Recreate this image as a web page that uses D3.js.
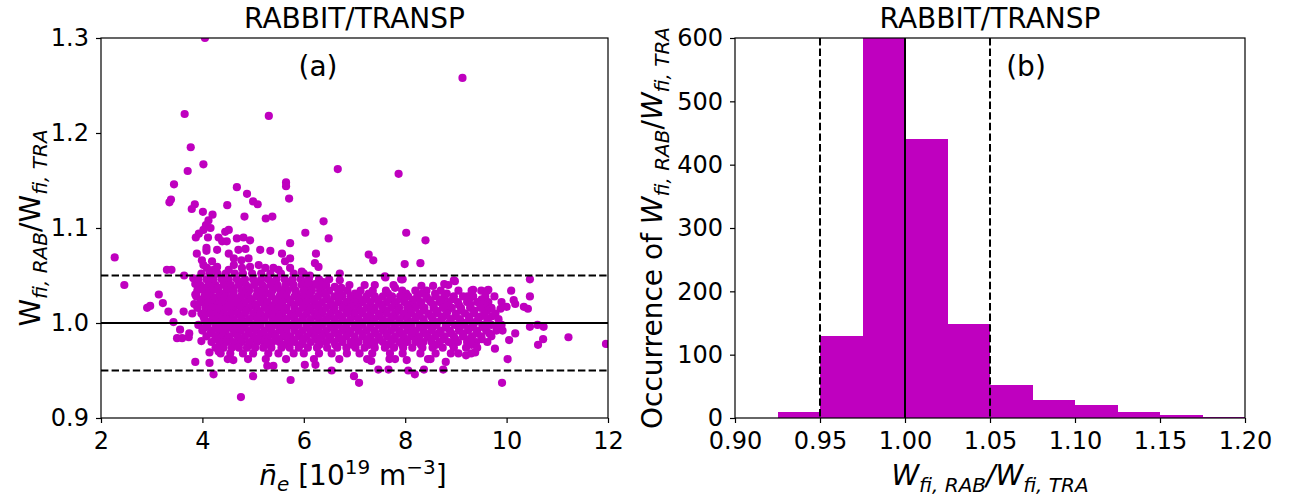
<!DOCTYPE html>
<html lang="en">
<head>
<meta charset="UTF-8">
<title>RABBIT/TRANSP</title>
<script src="https://cdnjs.cloudflare.com/ajax/libs/d3/7.8.5/d3.min.js"></script>
<style>
    body { margin: 0; background: #fff; }
    svg text { font-family: "DejaVu Sans", sans-serif; fill: #000; }
    .axis text { font-size: 24px; }
    .axis path, .axis line { stroke: #000; stroke-width: 1.2px; }
    .frame { fill: none; stroke: #000; stroke-width: 1.2px; }
    .dot { fill: #bf00bf; }
    .bar { fill: #bf00bf; shape-rendering: crispEdges; }
    .ref { stroke: #000; stroke-width: 2px; fill: none; }
    .ref.dashed { stroke-dasharray: 7.4, 3.2; }
</style>
</head>
<body>
<div class="chart"></div>
<script>
// ---- panel (a): single points [ne, ratio]
var scatterPoints = [
    [4.05,1.300],[9.13,1.258],[3.65,1.220],[5.31,1.218],[3.77,1.185],[4.02,1.167],[3.71,1.160],[6.67,1.162],
    [7.87,1.157],[3.44,1.146],[5.65,1.148],[5.65,1.144],[4.68,1.143],[4.88,1.136],[5.71,1.131],[3.35,1.127],
    [3.38,1.130],[3.85,1.125],[3.79,1.120],[4.01,1.117],[5.00,1.128],[5.09,1.125],[4.49,1.124],[4.20,1.114],
    [4.12,1.108],[4.07,1.103],[4.16,1.100],[4.02,1.098],[3.93,1.094],[4.11,1.090],[3.87,1.090],[4.83,1.112],
    [5.25,1.110],[5.38,1.112],[6.39,1.107],[6.03,1.095],[8.02,1.095],[6.49,1.089],[8.40,1.087],[5.73,1.084],
    [4.45,1.096],[4.52,1.098],[4.32,1.090],[4.39,1.086],[4.48,1.086],[4.68,1.089],[4.81,1.090],[4.94,1.087],
    [3.89,1.073],[4.08,1.079],[4.08,1.076],[4.29,1.077],[5.14,1.077],[5.34,1.076],[4.85,1.078],[5.57,1.073],
    [5.63,1.065],[5.11,1.061],[5.24,1.058],[5.40,1.058],[5.50,1.056],[4.52,1.073],[4.62,1.068],[4.71,1.077],
    [4.77,1.066],[4.62,1.061],[4.52,1.056],[4.78,1.058],[4.91,1.068],[4.94,1.059],[3.99,1.066],[4.02,1.061],
    [4.19,1.065],[4.09,1.058],[4.22,1.056],[4.29,1.059],[5.73,1.068],[5.73,1.058],[5.96,1.054],[6.12,1.050],
    [6.24,1.073],[6.22,1.063],[6.29,1.059],[7.28,1.072],[7.37,1.066],[7.99,1.062],[8.30,1.063],[6.71,1.052],
    [2.27,1.069],[2.46,1.040],[3.30,1.056],[3.39,1.056],[3.14,1.030],[2.91,1.016],[2.97,1.018],[3.22,1.021],
    [3.33,1.012],[3.43,1.001],[3.64,1.050],[3.86,1.041],[3.63,1.012],[3.80,1.010],[3.84,1.020],[3.86,1.030],
    [3.82,1.047],[3.56,0.993],[3.50,0.984],[3.60,0.984],[3.74,0.989],[3.73,0.985],[3.86,0.959],[3.98,0.981],
    [4.14,0.969],[4.14,0.958],[4.22,0.946],[4.32,0.970],[4.61,0.961],[4.76,0.922],[5.00,0.944],[5.28,0.955],
    [5.40,0.955],[5.74,0.940],[6.02,0.956],[6.23,0.956],[6.55,0.950],[6.99,0.944],[7.09,0.937],[7.33,0.960],
    [7.47,0.951],[7.67,0.951],[7.69,0.962],[8.03,0.961],[8.06,0.950],[8.19,0.946],[8.37,0.951],[8.50,0.962],
    [8.75,0.951],[8.80,0.959],[9.05,0.968],[9.20,0.966],[9.38,0.969],[9.77,0.973],[9.91,0.937],[10.02,0.962],
    [10.05,0.982],[9.92,0.992],[10.17,0.989],[10.62,0.977],[10.72,0.983],[10.46,0.996],[10.61,0.998],
    [10.73,0.996],[11.22,0.985],[11.96,0.978],[10.46,1.046],[10.46,1.028],[10.34,1.017],[10.42,1.015],
    [10.09,1.034],[10.14,1.024],[10.17,1.020],[10.00,1.017],[9.88,1.015],[9.62,1.017],[9.50,1.034],
    [9.62,1.034],[9.70,1.015],[9.31,1.034],[9.23,1.028],[8.96,1.045],[8.77,1.041],[7.92,1.046],[7.61,1.048],
    [7.60,1.049],[7.95,1.046],[7.40,1.040],[7.77,1.040],[7.80,1.037],[8.32,1.039],[8.55,1.039],[8.59,1.031],
    [8.85,1.040],[8.98,1.044],[9.34,1.035],[9.64,1.035],[6.22,1.041],[6.38,1.043],[6.71,1.045],[6.61,1.038],
    [6.74,1.037],[6.87,1.022],[6.94,1.012],[7.07,1.026],[7.07,1.014]
];

// ---- panel (a): the dense band, one ratio level and the ne values along it
var bandRows = [
    [1.052, [3.98,4.14,4.30,4.46,4.64,4.80,4.98,5.16,5.34,5.55,5.80,6.00]],
    [1.046, [3.92,4.08,4.22,4.38,4.52,4.68,4.84,5.00,5.16,5.30,5.46,5.62,5.78,5.94,6.10,6.30,6.50]],
    [1.043, [4.15,4.44,4.76,5.06,5.38,5.71,6.02]],
    [1.040, [3.96,4.12,4.26,4.42,4.56,4.72,4.86,5.02,5.18,5.34,5.48,5.64,5.80,5.96,6.10,6.26,6.44,6.90,7.20]],
    [1.037, [4.02,4.31,4.58,4.91,5.22,5.49,5.79,6.06,6.36]],
    [1.034, [3.90,4.04,4.18,4.32,4.48,4.62,4.78,4.92,5.08,5.22,5.38,5.54,5.68,5.84,6.00,6.16,6.32,6.50,6.68,
             6.86,7.12,7.36,7.62,7.94,8.20,8.42,8.70,9.05]],
    [1.031, [4.10,4.36,4.61,4.83,5.12,5.31,5.58,5.86,6.12,6.41,6.72,7.01,7.28,7.66,8.02,8.33,8.82]],
    [1.028, [3.88,4.04,4.18,4.32,4.46,4.60,4.76,4.90,5.06,5.20,5.36,5.52,5.66,5.82,5.98,6.12,6.28,6.44,6.60,
             6.76,6.92,7.08,7.24,7.40,7.56,7.74,7.90,8.06,8.24,8.42,8.60,8.78,8.96,9.14,9.34,9.58,9.76]],
    [1.025, [4.01,4.23,4.44,4.71,4.96,5.19,5.46,5.69,5.94,6.21,6.46,6.69,6.96,7.21,7.44,7.71,7.96,8.19,8.46,
             8.71,8.94,9.26,9.51]],
    [1.022, [3.96,4.12,4.26,4.40,4.54,4.68,4.84,4.98,5.14,5.28,5.44,5.58,5.74,5.90,6.06,6.20,6.36,6.52,6.68,
             6.84,7.00,7.16,7.32,7.48,7.64,7.82,7.98,8.14,8.32,8.50,8.68,8.86,9.04,9.22,9.42,9.64,9.90]],
    [1.019, [4.06,4.29,4.56,4.79,5.04,5.31,5.54,5.81,6.04,6.29,6.56,6.79,7.04,7.31,7.54,7.79,8.06,8.29,8.56,
             8.79,9.06,9.29,9.56]],
    [1.016, [3.90,4.06,4.20,4.34,4.48,4.62,4.76,4.92,5.06,5.22,5.36,5.50,5.66,5.82,5.98,6.14,6.28,6.44,6.60,
             6.76,6.92,7.08,7.24,7.40,7.56,7.72,7.88,8.04,8.20,8.38,8.56,8.74,8.92,9.10,9.28,9.48,9.70]],
    [1.013, [4.11,4.34,4.61,4.86,5.09,5.36,5.61,5.84,6.11,6.36,6.59,6.86,7.11,7.34,7.61,7.86,8.09,8.36,8.61,
             8.84,9.11,9.36,9.61]],
    [1.010, [3.98,4.14,4.28,4.42,4.56,4.70,4.84,5.00,5.14,5.30,5.44,5.58,5.74,5.90,6.06,6.22,6.36,6.52,6.68,
             6.84,7.00,7.16,7.32,7.48,7.64,7.80,7.96,8.12,8.28,8.46,8.64,8.82,9.00,9.18,9.36,9.56,9.78]],
    [1.007, [4.02,4.26,4.49,4.76,5.01,5.24,5.51,5.76,5.99,6.26,6.51,6.74,7.01,7.26,7.49,7.76,8.01,8.24,8.51,
             8.76,8.99,9.26,9.49,9.71]],
    [1.004, [4.04,4.20,4.34,4.48,4.62,4.78,4.92,5.08,5.22,5.38,5.52,5.66,5.82,5.98,6.14,6.30,6.44,6.60,6.76,
             6.92,7.08,7.24,7.40,7.56,7.72,7.88,8.04,8.20,8.36,8.54,8.72,8.90,9.08,9.26,9.44,9.62,9.84]],
    [1.001, [4.12,4.37,4.63,4.88,5.11,5.38,5.63,5.87,6.12,6.39,6.62,6.88,7.13,7.37,7.62,7.89,8.12,8.37,8.63,
             8.88,9.12,9.38,9.63]],
    [0.998, [3.92,4.10,4.26,4.40,4.54,4.70,4.84,5.00,5.14,5.30,5.44,5.60,5.74,5.90,6.06,6.22,6.36,6.52,6.68,
             6.84,7.00,7.16,7.32,7.48,7.64,7.80,7.96,8.12,8.28,8.44,8.62,8.80,8.98,9.16,9.34,9.52,9.70,9.90]],
    [0.995, [4.04,4.31,4.56,4.79,5.06,5.31,5.54,5.81,6.06,6.29,6.56,6.81,7.04,7.31,7.56,7.79,8.06,8.31,8.54,
             8.81,9.06,9.29,9.56,9.81]],
    [0.992, [4.00,4.18,4.32,4.46,4.62,4.76,4.92,5.06,5.22,5.36,5.52,5.66,5.82,5.98,6.14,6.28,6.44,6.60,6.76,
             6.92,7.08,7.24,7.40,7.56,7.72,7.88,8.04,8.20,8.36,8.52,8.70,8.88,9.06,9.24,9.42,9.60,9.80]],
    [0.989, [4.16,4.41,4.64,4.91,5.16,5.39,5.66,5.91,6.14,6.41,6.66,6.89,7.16,7.41,7.64,7.91,8.16,8.39,8.66,
             8.91,9.14,9.41,9.66]],
    [0.986, [4.08,4.26,4.40,4.54,4.70,4.84,5.00,5.14,5.30,5.44,5.60,5.74,5.90,6.06,6.22,6.36,6.52,6.68,6.84,
             7.00,7.16,7.32,7.48,7.64,7.80,7.96,8.12,8.28,8.44,8.60,8.78,8.96,9.14,9.32,9.50,9.70]],
    [0.983, [4.26,4.49,4.76,5.01,5.24,5.51,5.76,5.99,6.26,6.51,6.74,7.01,7.26,7.49,7.76,8.01,8.24,8.51,8.76,
             8.99,9.26,9.51]],
    [0.980, [4.18,4.34,4.48,4.62,4.78,4.92,5.08,5.22,5.38,5.52,5.68,5.82,5.98,6.14,6.30,6.44,6.60,6.76,6.92,
             7.08,7.24,7.40,7.56,7.72,7.88,8.04,8.20,8.36,8.52,8.68,8.86,9.04,9.22,9.40,9.62]],
    [0.977, [4.36,4.66,4.94,5.31,5.61,5.94,6.31,6.62,6.96,7.29,7.66,7.94,8.31,8.61,8.94,9.31]],
    [0.974, [4.26,4.42,4.58,4.72,4.88,5.04,5.20,5.36,5.56,5.72,5.90,6.08,6.26,6.46,6.66,6.84,7.02,7.20,7.40,
             7.60,7.78,7.96,8.14,8.34,8.54,8.74,8.96,9.20,9.42]],
    [0.968, [4.36,4.55,4.80,5.00,5.30,5.50,5.80,6.00,6.30,6.55,6.85,7.10,7.35,7.70,7.95,8.30,8.60,8.90,9.30]],
    [0.962, [4.50,4.90,5.25,5.65,6.20,6.70,7.25,7.80,8.45]]
];

var neTicks = [2, 4, 6, 8, 10, 12];
var ratioTicks = [0.9, 1.0, 1.1, 1.2, 1.3];
var refLevels = [0.95, 1.0, 1.05];

// ---- panel (b): histogram, bin start and count (bin width 0.025)
var binStart = [0.925, 0.950, 0.975, 1.000, 1.025, 1.050, 1.075, 1.100, 1.125, 1.150, 1.175];
var binCount = [10, 130, 660, 440, 148, 52, 29, 20, 9, 4, 1];
var binWidth = 0.025;
var histXTicks = [0.90, 0.95, 1.00, 1.05, 1.10, 1.15, 1.20];
var histYTicks = [0, 100, 200, 300, 400, 500, 600];

var svg = d3.select('.chart').append('svg')
    .attr('width', 1290)
    .attr('height', 497);

// flatten the band rows into points
var points = scatterPoints.slice();
bandRows.forEach(function(r) {
    r[1].forEach(function(n) { points.push([n, r[0]]); });
});

// W_{fi,RAB}/W_{fi,TRA} with mathtext-like subscripts
function ratioLabel(t, italicW) {
    var w = italicW ? 'italic' : 'normal';
    t.append('tspan').style('font-style', w).text('W');
    t.append('tspan').attr('dy', 7).style('font-size', '20px').style('font-style', 'italic').text('fi, RAB');
    t.append('tspan').attr('dy', -7).text('/');
    t.append('tspan').style('font-style', w).text('W');
    t.append('tspan').attr('dy', 7).style('font-size', '20px').style('font-style', 'italic').text('fi, TRA');
}

// ================= panel (a)
var ax = { left: 101, right: 608, top: 38, bottom: 418 };
var x = d3.scaleLinear().domain([2, 12]).range([ax.left, ax.right]);
var y = d3.scaleLinear().domain([0.9, 1.3]).range([ax.bottom, ax.top]);

svg.append('clipPath').attr('id', 'clipA')
    .append('rect')
    .attr('x', ax.left).attr('y', ax.top)
    .attr('width', ax.right - ax.left).attr('height', ax.bottom - ax.top);

var gA = svg.append('g').attr('clip-path', 'url(#clipA)');

gA.selectAll('.dot')
    .data(points)
    .enter()
    .append('circle')
    .attr('class', 'dot')
    .attr('cx', function(d) { return x(d[0]); })
    .attr('cy', function(d) { return y(d[1]); })
    .attr('r', 4.1);

gA.selectAll('.ref')
    .data(refLevels)
    .enter()
    .append('line')
    .attr('class', function(d) { return d == 1.0 ? 'ref' : 'ref dashed'; })
    .attr('x1', ax.left).attr('x2', ax.right)
    .attr('y1', function(d) { return y(d); })
    .attr('y2', function(d) { return y(d); });

svg.append('rect').attr('class', 'frame')
    .attr('x', ax.left).attr('y', ax.top)
    .attr('width', ax.right - ax.left).attr('height', ax.bottom - ax.top);

svg.append('g')
    .attr('class', 'axis')
    .attr('transform', 'translate(0,' + ax.bottom + ')')
    .call(d3.axisBottom(x).tickValues(neTicks).tickSize(5).tickPadding(9).tickFormat(d3.format('d')))
    .call(function(g) { g.select('.domain').remove(); });

svg.append('g')
    .attr('class', 'axis')
    .attr('transform', 'translate(' + ax.left + ',0)')
    .call(d3.axisLeft(y).tickValues(ratioTicks).tickSize(5).tickPadding(7).tickFormat(d3.format('.1f')))
    .call(function(g) { g.select('.domain').remove(); });

svg.append('text')
    .attr('x', (ax.left + ax.right) / 2).attr('y', 28)
    .attr('text-anchor', 'middle')
    .style('font-size', '28px')
    .text('RABBIT/TRANSP');

svg.append('text')
    .attr('x', 318).attr('y', 76)
    .attr('text-anchor', 'middle')
    .style('font-size', '28px')
    .text('(a)');

// y label (a)
var yla = svg.append('text')
    .attr('transform', 'translate(40,228) rotate(-90)')
    .attr('text-anchor', 'middle')
    .style('font-size', '28px');
ratioLabel(yla, false);

// x label (a)
var xla = svg.append('text')
    .attr('x', 353).attr('y', 485)
    .attr('text-anchor', 'middle')
    .style('font-size', '28px');
xla.append('tspan').style('font-style', 'italic').text('n\u0304');
xla.append('tspan').attr('dy', 6).style('font-size', '20px').style('font-style', 'italic').text('e');
xla.append('tspan').attr('dy', -6).text(' [10');
xla.append('tspan').attr('dy', -11).style('font-size', '20px').text('19');
xla.append('tspan').attr('dy', 11).text(' m');
xla.append('tspan').attr('dy', -11).style('font-size', '20px').text('\u22123');
xla.append('tspan').attr('dy', 11).text(']');

// ================= panel (b)
var bx = { left: 735, right: 1245, top: 38, bottom: 418 };
var hx = d3.scaleLinear().domain([0.90, 1.20]).range([bx.left, bx.right]);
var hy = d3.scaleLinear().domain([0, 600]).range([bx.bottom, bx.top]);

svg.append('clipPath').attr('id', 'clipB')
    .append('rect')
    .attr('x', bx.left).attr('y', bx.top)
    .attr('width', bx.right - bx.left).attr('height', bx.bottom - bx.top);

var gB = svg.append('g').attr('clip-path', 'url(#clipB)');

gB.selectAll('.bar')
    .data(binStart)
    .enter()
    .append('rect')
    .attr('class', 'bar')
    .attr('x', function(d) { return hx(d); })
    .attr('width', function(d) { return hx(d + binWidth) - hx(d); })
    .attr('y', function(d, i) { return hy(binCount[i]); })
    .attr('height', function(d, i) { return hy(0) - hy(binCount[i]); });

gB.selectAll('.ref')
    .data(refLevels)
    .enter()
    .append('line')
    .attr('class', function(d) { return d == 1.0 ? 'ref' : 'ref dashed'; })
    .attr('y1', bx.top).attr('y2', bx.bottom)
    .attr('x1', function(d) { return hx(d); })
    .attr('x2', function(d) { return hx(d); });

svg.append('rect').attr('class', 'frame')
    .attr('x', bx.left).attr('y', bx.top)
    .attr('width', bx.right - bx.left).attr('height', bx.bottom - bx.top);

svg.append('g')
    .attr('class', 'axis')
    .attr('transform', 'translate(0,' + bx.bottom + ')')
    .call(d3.axisBottom(hx).tickValues(histXTicks).tickSize(5).tickPadding(9).tickFormat(d3.format('.2f')))
    .call(function(g) { g.select('.domain').remove(); });

svg.append('g')
    .attr('class', 'axis')
    .attr('transform', 'translate(' + bx.left + ',0)')
    .call(d3.axisLeft(hy).tickValues(histYTicks).tickSize(5).tickPadding(7).tickFormat(d3.format('d')))
    .call(function(g) { g.select('.domain').remove(); });

svg.append('text')
    .attr('x', (bx.left + bx.right) / 2).attr('y', 28)
    .attr('text-anchor', 'middle')
    .style('font-size', '28px')
    .text('RABBIT/TRANSP');

svg.append('text')
    .attr('x', 1026).attr('y', 76)
    .attr('text-anchor', 'middle')
    .style('font-size', '28px')
    .text('(b)');

// y label (b)
var ylb = svg.append('text')
    .attr('transform', 'translate(662,228) rotate(-90)')
    .attr('text-anchor', 'middle')
    .style('font-size', '28px');
ylb.append('tspan').text('Occurrence of ');
ratioLabel(ylb, true);

// x label (b)
var xlb = svg.append('text')
    .attr('x', 990).attr('y', 485)
    .attr('text-anchor', 'middle')
    .style('font-size', '28px')
    .style('font-style', 'italic');
ratioLabel(xlb, true);
</script>
</body>
</html>
